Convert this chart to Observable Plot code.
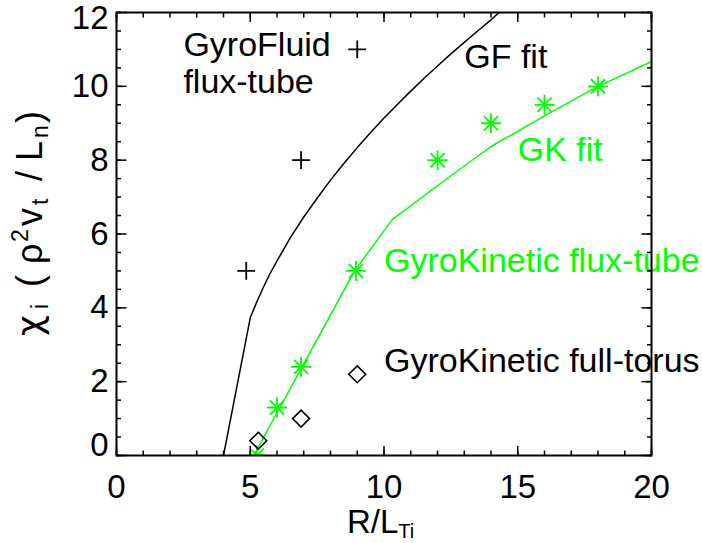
<!DOCTYPE html>
<html><head><meta charset="utf-8">
<script src="https://cdn.jsdelivr.net/npm/d3@7"></script>
<script src="https://cdn.jsdelivr.net/npm/@observablehq/plot@0.6"></script>
<style>
body{margin:0;background:#fff;}
#chart svg{overflow:visible;font-family:"Liberation Sans",Arial,Helvetica,sans-serif;}
</style></head><body><div id="chart"></div>
<script>
// GyroFluid flux-tube points (+)
const gfX = [4.85, 6.9, 9];
const gfY = [5, 8, 11];
// GyroKinetic flux-tube points (asterisks)
const gkX = [5.25, 6, 6.9, 8.95, 12, 14, 16, 18];
const gkY = [0, 1.3, 2.4, 5, 8, 9, 9.5, 10];
// GyroKinetic full-torus points (diamonds)
const ftX = [5.3, 6.9, 9];
const ftY = [0.4, 1.0, 2.2];
// GF fit curve (black)
const gfFitX = [4, 5, 5.25, 5.5, 5.75, 6, 6.5, 7, 7.5, 8, 8.5, 9, 9.5, 10, 10.5, 11, 11.5, 12, 12.5, 13, 13.5, 14, 14.3];
const gfFitY = [0, 3.73, 4.17, 4.57, 4.94, 5.27, 5.9, 6.46, 6.97, 7.46, 7.91, 8.34, 8.75, 9.14, 9.51, 9.87, 10.22, 10.55, 10.88, 11.19, 11.5, 11.8, 12.0];
// GK fit curve (green)
const gkFitX = [5.13, 8.9, 10.31, 12.3, 14, 16, 18, 20];
const gkFitY = [0, 5.0, 6.39, 7.47, 8.37, 9.2, 10.0, 10.67];
// ticks
const xTicks = [0, 5, 10, 15, 20];
const xMinor = d3.range(0, 21, 1);
const yTicks = [0, 2, 4, 6, 8, 10, 12];
const yMinor = d3.range(0, 12.01, 0.5);
// annotation labels (text, x, baseline y, colour)
const labelText = ["GyroFluid", "flux-tube", "GF fit", "GK fit", "GyroKinetic flux-tube", "GyroKinetic full-torus"];
const labelX = [2.5, 2.5, 13.0, 15.0, 10.0, 10.0];
const labelY = [10.81, 9.81, 10.49, 7.99, 4.98, 2.27];
const labelColor = ["#000", "#000", "#000", "#00ff00", "#00ff00", "#000"];

const green = "#00ff00";
const FS = 33;
const LFS = 34;
const pts = (xs, ys) => xs.map((x, i) => ({x, y: ys[i]}));
const labels = labelText.map((t, i) => ({t, x: labelX[i], y: labelY[i], c: labelColor[i]}));

const plot = Plot.plot({
  width: 702, height: 543,
  marginLeft: 116, marginRight: 51, marginTop: 12, marginBottom: 88,
  style: {fontFamily: '"Liberation Sans", Arial, Helvetica, sans-serif', background: "#fff", color: "#000"},
  x: {domain: [0, 20], axis: null},
  y: {domain: [0, 12], axis: null},
  marks: [
    Plot.line(pts(gfFitX, gfFitY), {x: "x", y: "y", stroke: "#000", strokeWidth: 1.5, clip: true}),
    Plot.line(pts(gkFitX, gkFitY), {x: "x", y: "y", stroke: green, strokeWidth: 1.5, clip: true}),
    Plot.dot(pts(gfX, gfY), {x: "x", y: "y", symbol: "plus", r: 5.8, stroke: "#000", strokeWidth: 1.8, clip: true}),
    Plot.dot(pts(gkX, gkY), {x: "x", y: "y", symbol: "plus", r: 6.5, stroke: green, strokeWidth: 1.8, clip: true}),
    Plot.dot(pts(gkX, gkY), {x: "x", y: "y", symbol: "times", r: 6.5, stroke: green, strokeWidth: 1.8, clip: true}),
    Plot.dot(pts(ftX, ftY), {x: "x", y: "y", symbol: "diamond2", r: 7.6, stroke: "#000", strokeWidth: 1.6, fill: "none", clip: true}),
    Plot.text(labels, {x: "x", y: "y", text: "t", fill: "c", fontSize: LFS, textAnchor: "start", lineAnchor: "middle", dy: -0.32 * LFS}),
    // ticks (inward), all four sides
    Plot.axisX(xMinor, {anchor: "bottom", tickSize: -4.5, fill: "none", label: null, strokeWidth: 1.5}),
    Plot.axisX(xTicks, {anchor: "bottom", tickSize: -9, fill: "none", label: null, strokeWidth: 1.5}),
    Plot.axisX(xMinor, {anchor: "top", tickSize: -4.5, fill: "none", label: null, strokeWidth: 1.5}),
    Plot.axisX(xTicks, {anchor: "top", tickSize: -9, fill: "none", label: null, strokeWidth: 1.5}),
    Plot.axisY(yMinor, {anchor: "left", tickSize: -5, fill: "none", label: null, strokeWidth: 1.5}),
    Plot.axisY(yTicks, {anchor: "left", tickSize: -10.5, fill: "none", label: null, strokeWidth: 1.5}),
    Plot.axisY(yMinor, {anchor: "right", tickSize: -5, fill: "none", label: null, strokeWidth: 1.5}),
    Plot.axisY(yTicks, {anchor: "right", tickSize: -10.5, fill: "none", label: null, strokeWidth: 1.5}),
    // tick labels
    Plot.axisX(xTicks, {anchor: "bottom", tickSize: 0, tickPadding: 19, fontSize: FS, label: null}),
    Plot.axisY(yTicks.filter(v => v > 0 && v < 12), {anchor: "left", tickSize: 0, tickPadding: 8, fontSize: FS, label: null}),
    Plot.axisY([12], {anchor: "left", tickSize: 0, tickPadding: 8, fontSize: FS, label: null, dy: 6}),
    Plot.axisY([0], {anchor: "left", tickSize: 0, tickPadding: 8, fontSize: FS, label: null, dy: -10}),
    Plot.frame({stroke: "#000", strokeWidth: 2})
  ]
});
document.getElementById("chart").append(plot);

// axis titles with sub/superscripts
const svg = d3.select(plot);
const xt = svg.append("text").attr("text-anchor", "start").attr("font-size", FS).attr("fill", "#000").attr("x", 347).attr("y", 533);
xt.append("tspan").text("R/L");
xt.append("tspan").attr("font-size", 20).attr("dy", 5).text("Ti");

const YF = 36, YS = 23;
const yg = svg.append("g").attr("transform", "translate(42,0) rotate(-90)");
const yt = yg.append("text").attr("text-anchor", "start").attr("font-size", YF).attr("fill", "#000");
const segs = [
  ["χ", 336, 0, YF, '"DejaVu Sans", sans-serif'],
  ["i", 309, 6, YS, null],
  ["(", 287, 0, YF, null],
  ["ρ", 264, 0, YF, null],
  ["2", 242, -14, YS, null],
  ["v", 226, 0, YF, null],
  ["t", 205, 6, YS, null],
  ["/", 181, 0, YF, null],
  ["L", 161, 0, YF, null],
  ["n", 138, 6, YS, null],
  [")", 123, 0, YF, null]
];
for (const [t, yo, sh, fs, ff] of segs) {
  const ts = yt.append("tspan").attr("x", -yo).attr("y", sh).attr("font-size", fs).text(t);
  if (ff) ts.attr("font-family", ff);
}
</script></body></html>
